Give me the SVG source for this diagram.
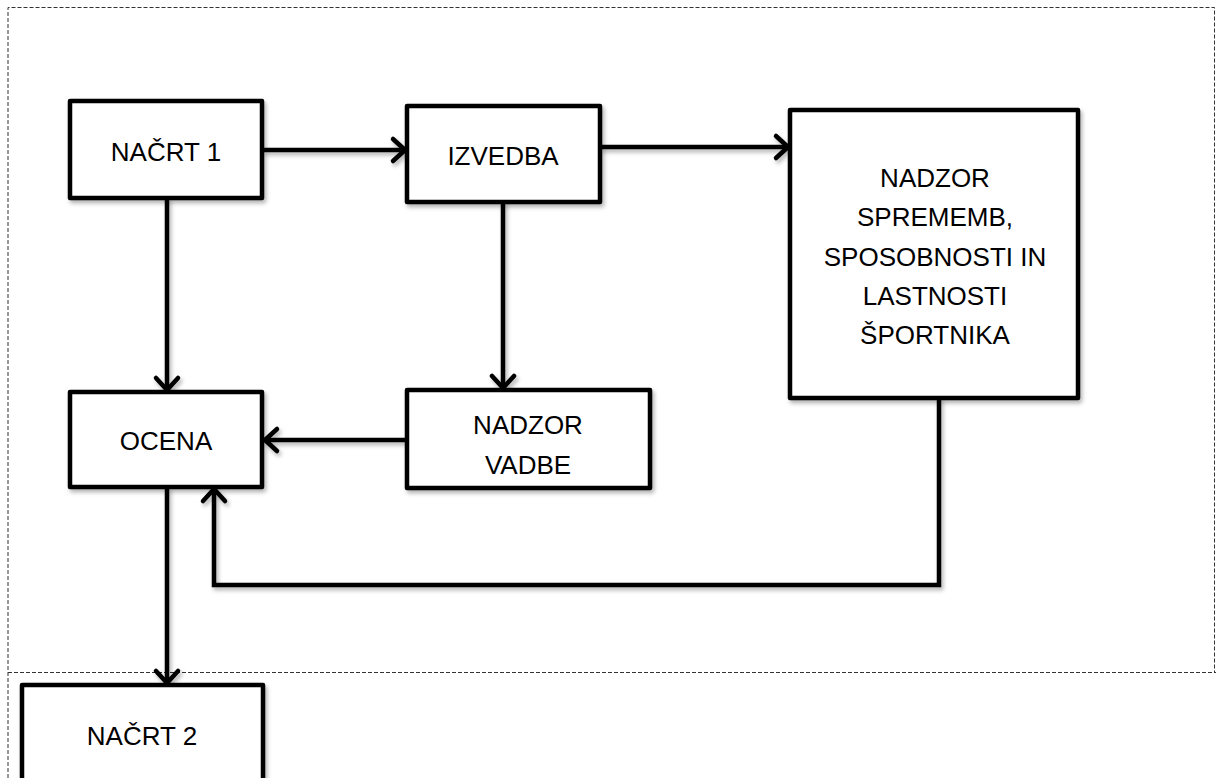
<svg xmlns="http://www.w3.org/2000/svg" width="1216" height="778" viewBox="0 0 1216 778">
  <style>
    .box { fill: #ffffff; stroke: #000000; stroke-width: 4.5; stroke-linejoin: round; filter: url(#sh); }
    .lbl { font-family: "Liberation Sans", Arial, sans-serif; font-size: 26px; fill: #000000; text-anchor: middle; }
    .con { fill: none; stroke: #000000; stroke-width: 4.5; stroke-linejoin: miter; filter: url(#sh); }
    .frame { fill: none; stroke: #333333; stroke-width: 1; stroke-dasharray: 4 2; }
  </style>
  <defs>
    <filter id="sh" filterUnits="userSpaceOnUse" x="0" y="0" width="1216" height="778">
      <feDropShadow dx="2" dy="3" stdDeviation="2" flood-color="#000000" flood-opacity="0.3"/>
    </filter>
    <marker id="chev" markerUnits="userSpaceOnUse" markerWidth="30" markerHeight="30" viewBox="-16 -15 20 30" refX="0" refY="0" orient="auto">
      <path d="M-12,-11 L0,0 L-12,11" fill="none" stroke="#000000" stroke-width="4.5" stroke-linecap="round" stroke-linejoin="round"/>
    </marker>
  </defs>

  <rect width="1216" height="778" fill="#ffffff"/>

  <g id="frame">
    <path class="frame" d="M8,778 L8,7.5 L1214.5,7.5 L1214.5,672"/>
    <path class="frame" d="M8,672.5 L1216,672.5"/>
  </g>

  <g id="connectors">
    <path class="con" d="M263,150 L405,150" marker-end="url(#chev)"/>
    <path class="con" d="M600,147 L788,147" marker-end="url(#chev)"/>
    <path class="con" d="M167,198 L167,390" marker-end="url(#chev)"/>
    <path class="con" d="M503,202 L503,388" marker-end="url(#chev)"/>
    <path class="con" d="M407,440 L265,440" marker-end="url(#chev)"/>
    <path class="con" d="M939,398 L939,585 L214,585 L214,489" marker-end="url(#chev)"/>
    <path class="con" d="M167,487 L167,683" marker-end="url(#chev)"/>
  </g>

  <g id="nacrt1">
    <rect class="box" x="70" y="101" width="192" height="97"/>
    <text class="lbl" x="166" y="161">NAČRT 1</text>
  </g>

  <g id="izvedba">
    <rect class="box" x="407" y="106" width="193" height="96"/>
    <text class="lbl" x="503" y="165">IZVEDBA</text>
  </g>

  <g id="nadzor-sprememb">
    <rect class="box" x="790" y="110" width="288" height="288"/>
    <text class="lbl" x="935" y="187">NADZOR</text>
    <text class="lbl" x="935" y="226">SPREMEMB,</text>
    <text class="lbl" x="935" y="266">SPOSOBNOSTI IN</text>
    <text class="lbl" x="935" y="305">LASTNOSTI</text>
    <text class="lbl" x="935" y="344">ŠPORTNIKA</text>
  </g>

  <g id="ocena">
    <rect class="box" x="70" y="392" width="192" height="95"/>
    <text class="lbl" x="166" y="450">OCENA</text>
  </g>

  <g id="nadzor-vadbe">
    <rect class="box" x="407" y="390" width="243" height="98"/>
    <text class="lbl" x="528" y="434">NADZOR</text>
    <text class="lbl" x="528" y="474">VADBE</text>
  </g>

  <g id="nacrt2">
    <rect class="box" x="22" y="685" width="241" height="120"/>
    <text class="lbl" x="142" y="745">NAČRT 2</text>
  </g>
</svg>
